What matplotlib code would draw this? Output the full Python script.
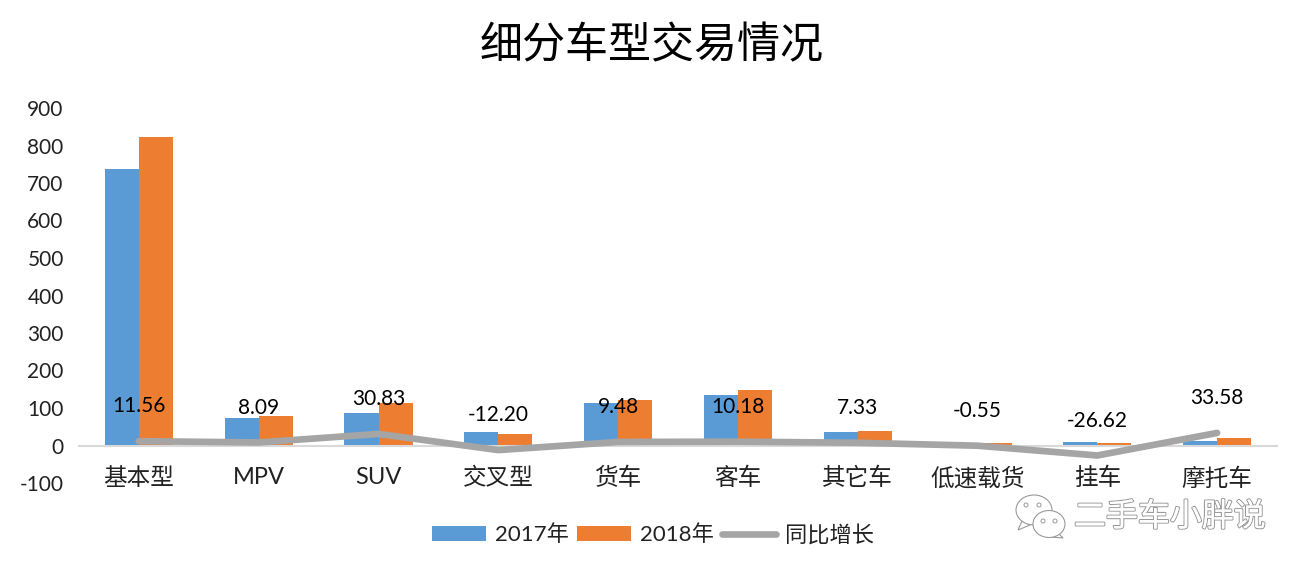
import numpy as np
from matplotlib import pyplot as plt
from matplotlib import patheffects as pe
from matplotlib.patches import Ellipse, Polygon

plt.rcParams['font.family'] = ['Lato', 'Noto Sans CJK SC', 'DejaVu Sans']
plt.rcParams['axes.unicode_minus'] = False

categories = ["基本型", "MPV", "SUV", "交叉型", "货车", "客车", "其它车", "低速载货", "挂车", "摩托车"]
values_2017 = [737, 73, 86, 35, 113, 135, 35, 8, 10, 13]
values_2018 = [823, 79, 113, 30, 122, 149, 38, 8, 8, 19]
growth = [11.56, 8.09, 30.83, -12.20, 9.48, 10.18, 7.33, -0.55, -26.62, 33.58]
growth_labels = ["11.56", "8.09", "30.83", "-12.20", "9.48", "10.18", "7.33", "-0.55", "-26.62", "33.58"]
yticks = [-100, 0, 100, 200, 300, 400, 500, 600, 700, 800, 900]

W, H = 1308, 576
fig = plt.figure(figsize=(W / 100, H / 100), dpi=100)
ax = fig.add_axes([79 / W, 1 - 483 / H, (1277 - 79) / W, (483 - 108) / H])

x = np.arange(len(categories))
width = 0.284
bar1 = ax.bar(x - width / 2, values_2017, width, color="#5B9BD5", label="2017年", zorder=2)
bar2 = ax.bar(x + width / 2, values_2018, width, color="#ED7D31", label="2018年", zorder=2)
line, = ax.plot(x, growth, color="#A5A5A5", lw=4.8, solid_capstyle="round",
                solid_joinstyle="miter", label="同比增长", zorder=3)

# labels sit a fixed distance above the line
for xi, g, lab in zip(x, growth, growth_labels):
    ax.annotate(lab, (xi, g), xytext=(0, 25), textcoords="offset points",
                ha="center", va="center", fontsize=15, color="black", zorder=4)

ax.set_xlim(-0.5, len(categories) - 0.5)
ax.set_ylim(-100, 900)
ax.set_yticks(yticks)
ax.set_xticks(x)
ax.set_xticklabels(categories)
ax.tick_params(axis="both", length=0, colors="#222222")
ax.tick_params(axis="x", pad=15.5, labelsize=17)
ax.tick_params(axis="y", pad=11, labelsize=15)

for s in ["top", "right", "left"]:
    ax.spines[s].set_visible(False)
ax.spines["bottom"].set_position(("data", 0))
ax.spines["bottom"].set_color("#D9D9D9")
ax.spines["bottom"].set_linewidth(1.5)

fig.text(652 / W, 1 - 45 / H, "细分车型交易情况", ha="center", va="center",
         fontsize=31, color="black")

fig.legend(handles=[bar1, bar2, line], loc="center", bbox_to_anchor=(653 / W, 1 - 535 / H),
           ncol=3, frameon=False, fontsize=16, handlelength=2.4, handleheight=0.7,
           columnspacing=0.4, handletextpad=0.4, labelcolor="#222222")

# watermark
outline = [pe.withStroke(linewidth=1.6, foreground="#9A9A9A"), pe.Normal()]
fig.text(1170 / W, 1 - 517 / H, "二手车小胖说", ha="center", va="center", fontsize=23,
         color="white", path_effects=outline)

ov = fig.add_axes([0, 0, 1, 1], zorder=5)
ov.set_xlim(0, W)
ov.set_ylim(H, 0)
ov.axis("off")
ov.patch.set_alpha(0)
for cx, cy, w, h, tail in [(1034, 510, 36, 30, [(1022, 521), (1018, 530), (1030, 525)]),
                           (1049, 524, 32, 27, [(1058, 533), (1063, 538), (1050, 537)])]:
    ov.add_patch(Polygon(tail, fc="white", ec="#9A9A9A", lw=0.8))
    ov.add_patch(Ellipse((cx, cy), w, h, fc="white", ec="#9A9A9A", lw=0.8))
for cx, cy in [(1026, 505), (1039, 505), (1043, 521), (1055, 521)]:
    ov.add_patch(Ellipse((cx, cy), 4, 4, fc="white", ec="#9A9A9A", lw=0.7))

fig.savefig("out.png", dpi=100)
plt.close()
